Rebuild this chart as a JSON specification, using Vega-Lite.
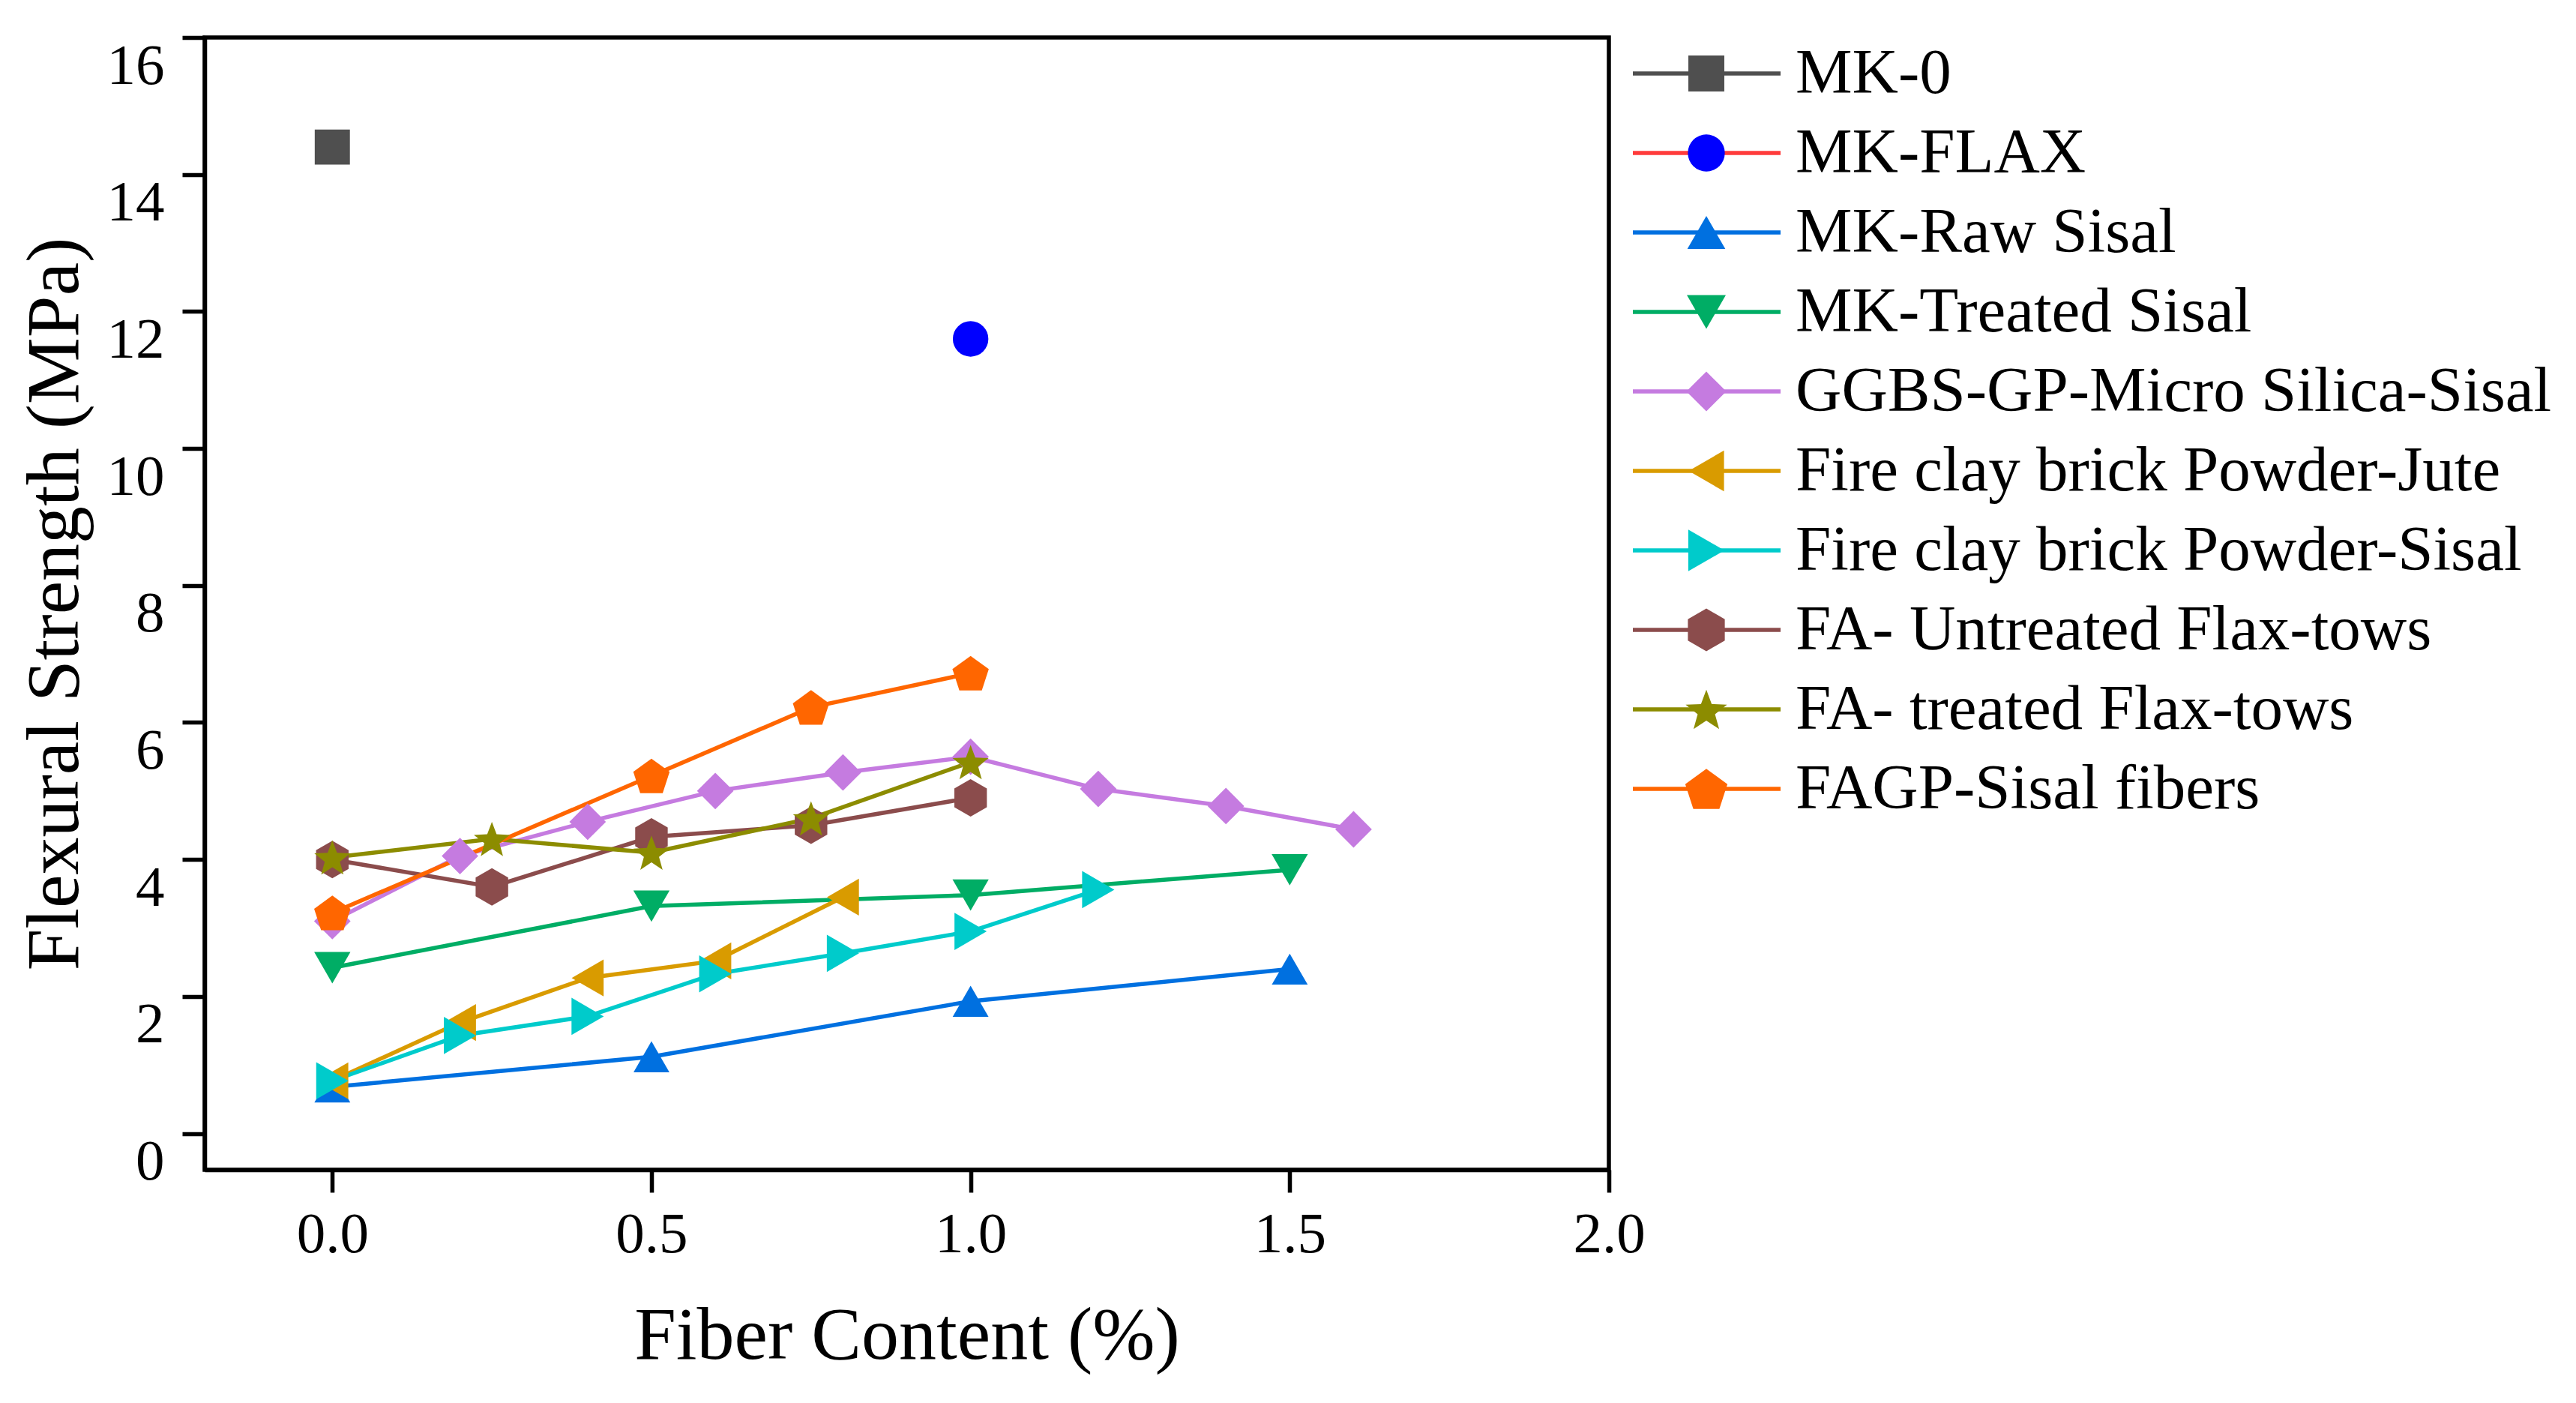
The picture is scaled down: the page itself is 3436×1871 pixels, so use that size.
{
  "$schema": "https://vega.github.io/schema/vega-lite/v6.json",
  "background": "white",
  "padding": {"left": 20, "top": 44, "right": 5, "bottom": 5},
  "spacing": 0,
  "bounds": "flush",
  "config": {
    "font": "Liberation Serif",
    "view": {"stroke": "black", "strokeWidth": 5.5},
    "legend": {"disable": true},
    "axis": {
      "grid": false,
      "domainColor": "black",
      "domainWidth": 5.5,
      "tickColor": "black",
      "tickWidth": 5.5,
      "tickSize": 30,
      "labelFont": "Liberation Serif",
      "labelFontSize": 77,
      "labelColor": "black",
      "labelOverlap": false,
      "titleFont": "Liberation Serif",
      "titleFontSize": 100,
      "titleFontWeight": "normal",
      "titleColor": "black"
    }
  },
  "datasets": {
    "pts": [
      {"s": "MK-0", "x": 0, "y": 14.4},
      {"s": "MK-FLAX", "x": 1.0, "y": 11.6},
      {"s": "MK-Raw Sisal", "x": 0, "y": 0.68},
      {"s": "MK-Raw Sisal", "x": 0.5, "y": 1.12},
      {"s": "MK-Raw Sisal", "x": 1.0, "y": 1.93},
      {"s": "MK-Raw Sisal", "x": 1.5, "y": 2.4},
      {"s": "MK-Treated Sisal", "x": 0, "y": 2.42},
      {"s": "MK-Treated Sisal", "x": 0.5, "y": 3.32},
      {"s": "MK-Treated Sisal", "x": 1.0, "y": 3.48},
      {"s": "MK-Treated Sisal", "x": 1.5, "y": 3.85},
      {"s": "GGBS-GP-Micro Silica-Sisal", "x": 0, "y": 3.1},
      {"s": "GGBS-GP-Micro Silica-Sisal", "x": 0.2, "y": 4.05},
      {"s": "GGBS-GP-Micro Silica-Sisal", "x": 0.4, "y": 4.55},
      {"s": "GGBS-GP-Micro Silica-Sisal", "x": 0.6, "y": 5.0},
      {"s": "GGBS-GP-Micro Silica-Sisal", "x": 0.8, "y": 5.27},
      {"s": "GGBS-GP-Micro Silica-Sisal", "x": 1.0, "y": 5.5},
      {"s": "GGBS-GP-Micro Silica-Sisal", "x": 1.2, "y": 5.03},
      {"s": "GGBS-GP-Micro Silica-Sisal", "x": 1.4, "y": 4.78},
      {"s": "GGBS-GP-Micro Silica-Sisal", "x": 1.6, "y": 4.44},
      {"s": "Fire clay brick Powder-Jute", "x": 0, "y": 0.77},
      {"s": "Fire clay brick Powder-Jute", "x": 0.2, "y": 1.62},
      {"s": "Fire clay brick Powder-Jute", "x": 0.4, "y": 2.27},
      {"s": "Fire clay brick Powder-Jute", "x": 0.6, "y": 2.52},
      {"s": "Fire clay brick Powder-Jute", "x": 0.8, "y": 3.45},
      {"s": "Fire clay brick Powder-Sisal", "x": 0, "y": 0.77},
      {"s": "Fire clay brick Powder-Sisal", "x": 0.2, "y": 1.43},
      {"s": "Fire clay brick Powder-Sisal", "x": 0.4, "y": 1.71},
      {"s": "Fire clay brick Powder-Sisal", "x": 0.6, "y": 2.33},
      {"s": "Fire clay brick Powder-Sisal", "x": 0.8, "y": 2.63},
      {"s": "Fire clay brick Powder-Sisal", "x": 1.0, "y": 2.95},
      {"s": "Fire clay brick Powder-Sisal", "x": 1.2, "y": 3.56},
      {"s": "FA- Untreated Flax-tows", "x": 0, "y": 4.0},
      {"s": "FA- Untreated Flax-tows", "x": 0.25, "y": 3.6},
      {"s": "FA- Untreated Flax-tows", "x": 0.5, "y": 4.33},
      {"s": "FA- Untreated Flax-tows", "x": 0.75, "y": 4.5},
      {"s": "FA- Untreated Flax-tows", "x": 1.0, "y": 4.9},
      {"s": "FA- treated Flax-tows", "x": 0, "y": 4.03},
      {"s": "FA- treated Flax-tows", "x": 0.25, "y": 4.3},
      {"s": "FA- treated Flax-tows", "x": 0.5, "y": 4.1},
      {"s": "FA- treated Flax-tows", "x": 0.75, "y": 4.6},
      {"s": "FA- treated Flax-tows", "x": 1.0, "y": 5.42},
      {"s": "FAGP-Sisal fibers", "x": 0, "y": 3.22},
      {"s": "FAGP-Sisal fibers", "x": 0.5, "y": 5.22},
      {"s": "FAGP-Sisal fibers", "x": 0.75, "y": 6.22},
      {"s": "FAGP-Sisal fibers", "x": 1.0, "y": 6.72}
    ],
    "keys": [
      {"s": "MK-0", "k": 0},
      {"s": "MK-FLAX", "k": 1},
      {"s": "MK-Raw Sisal", "k": 2},
      {"s": "MK-Treated Sisal", "k": 3},
      {"s": "GGBS-GP-Micro Silica-Sisal", "k": 4},
      {"s": "Fire clay brick Powder-Jute", "k": 5},
      {"s": "Fire clay brick Powder-Sisal", "k": 6},
      {"s": "FA- Untreated Flax-tows", "k": 7},
      {"s": "FA- treated Flax-tows", "k": 8},
      {"s": "FAGP-Sisal fibers", "k": 9}
    ]
  },
  "resolve": {"scale": {"size": "independent", "x": "independent", "y": "independent"}},
  "hconcat": [
    {
      "width": 1873,
      "height": 1510,
      "data": {"name": "pts"},
      "encoding": {
        "x": {
          "field": "x",
          "type": "quantitative",
          "scale": {"domain": [-0.2, 2.0], "nice": false, "zero": false},
          "axis": {
            "title": "Fiber Content (%)",
            "values": [0, 0.5, 1, 1.5, 2],
            "format": ".1f",
            "labelFlush": false,
            "labelPadding": 18,
            "titlePadding": 48
          }
        },
        "y": {
          "field": "y",
          "type": "quantitative",
          "scale": {"domain": [-0.53, 16], "nice": false, "zero": false},
          "axis": {
            "title": "Flexural Strength (MPa)",
            "values": [0, 2, 4, 6, 8, 10, 12, 14, 16],
            "labelBaseline": "top",
            "labelDy": -3,
            "labelPadding": 24,
            "titlePadding": 18
          }
        },
        "color": {
          "field": "s",
          "type": "nominal",
          "scale": {
            "domain": ["MK-0", "MK-FLAX", "MK-Raw Sisal", "MK-Treated Sisal", "GGBS-GP-Micro Silica-Sisal", "Fire clay brick Powder-Jute", "Fire clay brick Powder-Sisal", "FA- Untreated Flax-tows", "FA- treated Flax-tows", "FAGP-Sisal fibers"],
            "range": ["#4f4f4f", "#0000ff", "#0070e0", "#00ad65", "#c57be0", "#d99b00", "#00cbcb", "#8b4c4c", "#8c8c00", "#ff6600"]
          }
        }
      },
      "layer": [
        {"mark": {"type": "line", "strokeWidth": 5.5}},
        {
          "mark": {"type": "point", "filled": true, "opacity": 1, "strokeWidth": 0},
          "encoding": {
            "shape": {
              "field": "s",
              "type": "nominal",
              "scale": {
                "domain": ["MK-0", "MK-FLAX", "MK-Raw Sisal", "MK-Treated Sisal", "GGBS-GP-Micro Silica-Sisal", "Fire clay brick Powder-Jute", "Fire clay brick Powder-Sisal", "FA- Untreated Flax-tows", "FA- treated Flax-tows", "FAGP-Sisal fibers"],
                "range": ["square", "circle", "triangle-up", "triangle-down", "diamond", "triangle-left", "triangle-right", "M0,-1L0.866,-0.5L0.866,0.5L0,1L-0.866,0.5L-0.866,-0.5Z", "M0,-0.905L0.247,-0.245L0.951,-0.214L0.399,0.225L0.588,0.904L0,0.515L-0.588,0.904L-0.399,0.225L-0.951,-0.214L-0.247,-0.245Z", "M0,-0.905L0.951,-0.214L0.588,0.904L-0.588,0.904L-0.951,-0.214Z"]
              }
            },
            "size": {
              "field": "s",
              "type": "nominal",
              "scale": {
                "domain": ["MK-0", "MK-FLAX", "MK-Raw Sisal", "MK-Treated Sisal", "GGBS-GP-Micro Silica-Sisal", "Fire clay brick Powder-Jute", "Fire clay brick Powder-Sisal", "FA- Untreated Flax-tows", "FA- treated Flax-tows", "FAGP-Sisal fibers"],
                "range": [2200, 2600, 2300, 2300, 2500, 2300, 2300, 2200, 2300, 2300]
              }
            }
          }
        }
      ]
    },
    {
      "width": 1270,
      "height": 1510,
      "view": {"stroke": null},
      "data": {"name": "keys"},
      "encoding": {
        "y": {
          "field": "k",
          "type": "quantitative",
          "scale": {"domain": [-0.4528, 13.7925], "reverse": true, "nice": false, "zero": false},
          "axis": null
        }
      },
      "layer": [
        {
          "mark": {"type": "rule", "strokeWidth": 5.5},
          "encoding": {
            "x": {"datum": 0.32, "type": "quantitative", "scale": {"domain": [0, 12.7], "nice": false, "zero": false}, "axis": null},
            "x2": {"datum": 2.29},
            "stroke": {
              "field": "s",
              "type": "nominal",
              "scale": {
                "domain": ["MK-0", "MK-FLAX", "MK-Raw Sisal", "MK-Treated Sisal", "GGBS-GP-Micro Silica-Sisal", "Fire clay brick Powder-Jute", "Fire clay brick Powder-Sisal", "FA- Untreated Flax-tows", "FA- treated Flax-tows", "FAGP-Sisal fibers"],
                "range": ["#4f4f4f", "#ff3b3b", "#0070e0", "#00ad65", "#c57be0", "#d99b00", "#00cbcb", "#8b4c4c", "#8c8c00", "#ff6600"]
              }
            }
          }
        },
        {
          "mark": {"type": "point", "filled": true, "opacity": 1, "strokeWidth": 0},
          "encoding": {
            "x": {"datum": 1.3, "type": "quantitative", "scale": {"domain": [0, 12.7], "nice": false, "zero": false}, "axis": null},
            "color": {"field": "s", "type": "nominal"},
            "shape": {"field": "s", "type": "nominal"},
            "size": {
              "field": "s",
              "type": "nominal",
              "scale": {
                "domain": ["MK-0", "MK-FLAX", "MK-Raw Sisal", "MK-Treated Sisal", "GGBS-GP-Micro Silica-Sisal", "Fire clay brick Powder-Jute", "Fire clay brick Powder-Sisal", "FA- Untreated Flax-tows", "FA- treated Flax-tows", "FAGP-Sisal fibers"],
                "range": [2300, 3500, 2300, 2300, 2600, 2300, 2300, 2200, 2300, 2300]
              }
            }
          }
        },
        {
          "mark": {"type": "text", "align": "left", "baseline": "middle", "fontSize": 85, "font": "Liberation Serif", "color": "black"},
          "encoding": {
            "x": {"datum": 2.49, "type": "quantitative", "scale": {"domain": [0, 12.7], "nice": false, "zero": false}, "axis": null},
            "text": {"field": "s"}
          }
        }
      ]
    }
  ]
}
